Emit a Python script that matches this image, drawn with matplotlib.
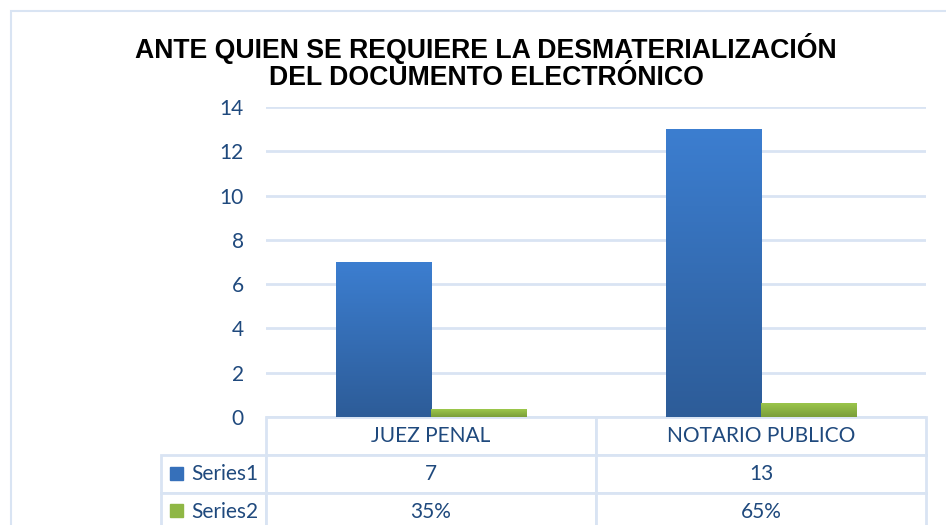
import numpy as np
import matplotlib.pyplot as plt
from matplotlib.colors import LinearSegmentedColormap
from matplotlib.patches import Rectangle
from matplotlib.table import Table

categories = ['JUEZ PENAL', 'NOTARIO PUBLICO']
series_names = ['Series1', 'Series2']
series1 = [7, 13]
series2 = [0.35, 0.65]
series2_labels = ['35%', '65%']
yticks = [0, 2, 4, 6, 8, 10, 12, 14]

title = 'ANTE QUIEN SE REQUIERE LA DESMATERIALIZACIÓN\nDEL DOCUMENTO ELECTRÓNICO'

text_blue = '#1F497D'
grid_col = '#D9E4F3'
blue_grad = LinearSegmentedColormap.from_list('b', ['#2D5C98', '#3C7ED0'])
green_grad = LinearSegmentedColormap.from_list('g', ['#7A9E3A', '#9DC84C'])

W, H = 946, 525
fig = plt.figure(figsize=(W / 100, H / 100), dpi=100)

# chart border (cut at right/bottom like the screenshot)
fig.patches.append(Rectangle((11 / W, -0.1), 1.2, 1 - 11 / H + 0.1,
                             transform=fig.transFigure, fill=False,
                             edgecolor=grid_col, lw=1.5))

ax = fig.add_axes([266 / W, 1 - 417 / H, 660 / W, 310 / H])
x = np.arange(len(categories))
w = 0.288
b1 = ax.bar(x - w / 2, series1, w, color='#3469B2', zorder=3)
b2 = ax.bar(x + w / 2, series2, w, color='#8BB443', zorder=3)

# vertical gradient on each bar
grad = np.linspace(0, 1, 256).reshape(-1, 1)
for bars, cmap in ((b1, blue_grad), (b2, green_grad)):
    for r in bars:
        x0, y0 = r.get_x(), r.get_y()
        im = ax.imshow(grad, cmap=cmap, origin='lower', aspect='auto',
                       extent=[x0, x0 + r.get_width(), y0, y0 + r.get_height()],
                       zorder=4)
        im.set_clip_path(r)

ax.set_xlim(-0.5, len(categories) - 0.5)
ax.set_ylim(0, 14)
ax.set_yticks(yticks)
ax.set_xticks([])
ax.grid(axis='y', color=grid_col, lw=2, zorder=0)
for s in ax.spines.values():
    s.set_visible(False)
ax.tick_params(axis='y', length=0, pad=16, labelsize=15, labelcolor=text_blue)
for lab in ax.get_yticklabels():
    lab.set_family('Lato')

fig.text(486 / W, 1 - 62 / H, title, ha='center', va='center',
         fontsize=19.2, fontweight='bold', family='Liberation Sans',
         linespacing=1.08)

# data table below the plot (bbox covers the data cells; label column sits left of it)
rows = [[str(v) for v in series1], series2_labels]
tb = Table(ax, bbox=[0, -114 / 310, 1, 114 / 310])
lw_cell, cw, rh = 105 / 660, 330 / 660, 38 / 310
for j, cat in enumerate(categories):
    tb.add_cell(0, j, cw, rh, text=cat, loc='center')
for i, name in enumerate(series_names):
    tb.add_cell(i + 1, -1, lw_cell, rh, text=name, loc='right')
    for j, val in enumerate(rows[i]):
        tb.add_cell(i + 1, j, cw, rh, text=val, loc='center')
tb.auto_set_font_size(False)
for (r, c), cell in tb.get_celld().items():
    cell.set_edgecolor(grid_col)
    cell.set_linewidth(2)
    cell.get_text().set_color(text_blue)
    cell.get_text().set_fontsize(15)
    cell.get_text().set_family('Lato')
    cell.PAD = 0.075 if c == -1 else 0.02
ax.add_table(tb)

# legend keys in the row-label cells
for i, cmap in enumerate((blue_grad, green_grad)):
    yc = 1 - (474 + 37 * i) / H
    fig.patches.append(Rectangle((170 / W, yc - 6 / H), 13 / W, 13 / H,
                                 transform=fig.transFigure,
                                 color=cmap(0.6), zorder=5))

fig.savefig('out.png', dpi=100)
